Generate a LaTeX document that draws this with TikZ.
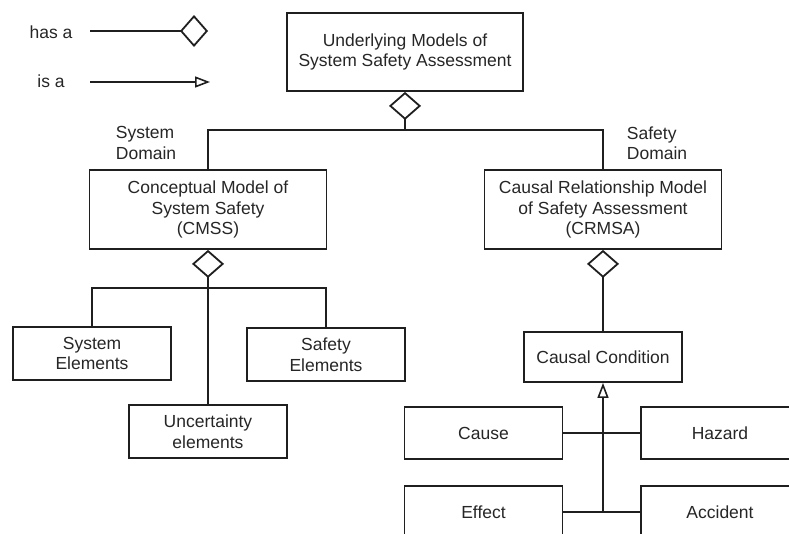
\documentclass[tikz,border=0pt]{standalone}
\usepackage{fontspec}
\setmainfont{Liberation Sans}
\usetikzlibrary{arrows.meta}
\begin{document}
\begin{tikzpicture}[x=1pt,y=-1pt,
  line width=1.8pt, draw=black!88,
  every node/.style={font=\fontsize{17.5}{20.5}\selectfont, text=black!85},
  box/.style={draw, rectangle, align=center, inner sep=0pt},
  bigbox/.style={box, minimum width=237pt, minimum height=79pt},
  smallbox/.style={box, minimum width=158pt, minimum height=53pt},
  hasa/.style={-{Diamond[open, length=28pt, width=32pt, line width=1.8pt]}},
  isa/.style={-{Triangle[open, length=15pt, width=11pt, line width=1.6pt]}},
  lbl/.style={align=left, inner sep=0pt}
]
\useasboundingbox (0,0) rectangle (789,533);
\clip (0,0) rectangle (789,533);

% legend
\node (haslbl) at (51,32) {has a};
\node (islbl) at (51,81) {is a};
\coordinate (hasS) at (90,31);
\coordinate (hasE) at (208,31);
\coordinate (isS) at (90,82);
\coordinate (isE) at (210,82);
\draw[hasa] (hasS) -- (hasE);
\draw[isa] (isS) -- (isE);

% upper levels
\node[box, minimum width=236pt, minimum height=78pt] (top) at (405,52)
  {Underlying Models of\\System Safety Assessment};
\node[bigbox] (cmss) at (208,209.5)
  {Conceptual Model of\\System Safety\\(CMSS)};
\node[bigbox] (crmsa) at (603,209.5)
  {Causal Relationship Model\\of Safety Assessment\\(CRMSA)};

\node[lbl, anchor=west] (sysdom) at (115,143) {System\\Domain};
\node[lbl, anchor=west] (safdom) at (626,143) {Safety\\Domain};

% elements of the CMSS
\node[smallbox] (sys) at (92,353.5) {System\\Elements};
\node[smallbox] (saf) at (326,354.5) {Safety\\Elements};
\node[smallbox] (unc) at (208,431.5) {Uncertainty\\elements};

% causal conditions
\node[box, minimum width=158pt, minimum height=50pt] (cc) at (603,357) {Causal Condition};
\node[smallbox, minimum height=52pt] (cause) at (483.5,433) {Cause};
\node[smallbox, minimum height=52pt] (hazard) at (720,433) {Hazard};
\node[smallbox, minimum height=52pt] (effect) at (483.5,512) {Effect};
\node[smallbox, minimum height=52pt] (accident) at (720,512) {Accident};

% aggregation connectors
\coordinate (j1) at (405,130);
\draw[hasa] (j1) -- (top.south);
\draw (cmss.north) |- (j1) -| (crmsa.north);

\coordinate (j2) at (208,288);
\draw[hasa] (unc.north) -- (cmss.south);
\draw (sys.north) |- (j2) -| (saf.north);

\draw[hasa] (cc.north) -- (crmsa.south);

% generalisation connectors
\coordinate (j3) at (603,512);
\draw (cause.east) -- (hazard.west);
\draw (effect.east) -- (accident.west);
\draw[isa] (j3) -- (cc.south);
\end{tikzpicture}
\end{document}
